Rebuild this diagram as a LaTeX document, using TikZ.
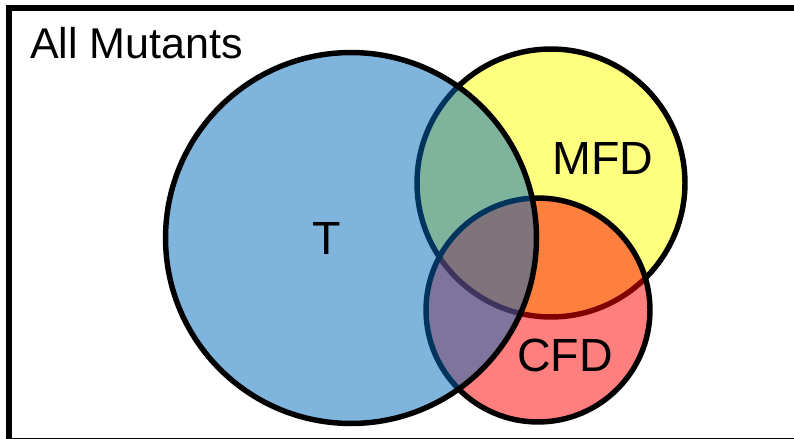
\documentclass[tikz,border=0pt]{standalone}
\usepackage{fontspec}
\setmainfont{Liberation Sans}
\usetikzlibrary{positioning}

\definecolor{setblue}{RGB}{0,105,187}
\definecolor{setyellow}{RGB}{255,255,0}
\definecolor{setred}{RGB}{255,0,0}

\tikzset{
    setcircle/.style={circle, draw=black, line width=3.1pt, inner sep=0pt, fill opacity=0.5},
    setlabel/.style={font=\fontsize{26.5}{30}\selectfont, text=black}
}

\begin{document}
\begin{tikzpicture}[x=0.02cm, y=-0.02cm]

    % 1. Obszar rysunku (794 x 439 px)
    \useasboundingbox (0,0) rectangle (794,439);
    \clip (0,0) rectangle (794,439);

    % 2. Ramka zbioru wszystkich mutantów
    \draw[line width=3.4pt] (9,8) rectangle (805,441);
    \node[anchor=west, font=\fontsize{24.5}{28}\selectfont] (all) at (24,43) {All Mutants};

    % 3. Okręgi zbiorów (kolejność: MFD, CFD, T)
    \node[setcircle, fill=setyellow, minimum size=5.36cm] (MFD) at (551,183) {};
    \node[setcircle, fill=setred, minimum size=4.48cm] (CFD) at (538,310) {};
    \node[setcircle, fill=setblue, minimum size=7.42cm] (T) at (351,238) {};

    % 4. Podpisy
    \node[setlabel] (Tlabel) at (327,238) {T};
    \node[setlabel] (MFDlabel) at (603,158) {MFD};
    \node[setlabel] (CFDlabel) at (565,355) {CFD};

\end{tikzpicture}
\end{document}
